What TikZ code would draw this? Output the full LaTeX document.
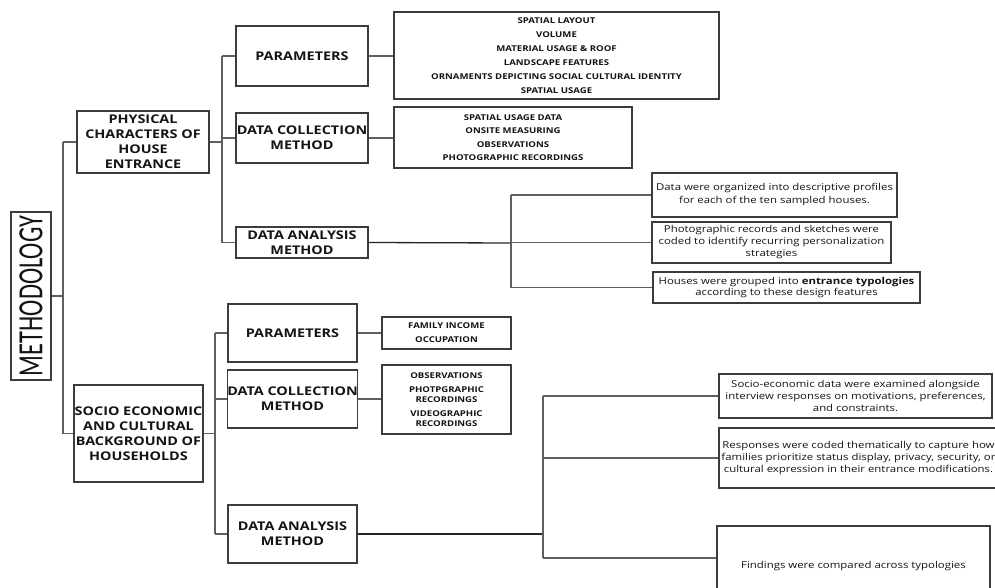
\documentclass[tikz,border=0pt]{standalone}
\usepackage{fontspec}
\setmainfont{Open Sans}[FakeStretch=1.2]
\newfontfamily\thinfont{Carlito}
\usepackage{graphicx}
\definecolor{lnc}{RGB}{95,95,95}
\definecolor{bxc}{RGB}{60,60,60}
\definecolor{txc}{RGB}{20,20,20}
\begin{document}
\begin{tikzpicture}[x=1pt,y=-1pt,
  bx/.style={draw=bxc,line width=1.1pt,rectangle,inner sep=0pt,align=center,text=txc},
  lvl/.style={bx,font=\fontsize{12}{15}\selectfont\bfseries},
  lst/.style={bx,font=\fontsize{8}{14}\selectfont\bfseries},
  dsc/.style={bx,font=\fontsize{9.5}{13}\selectfont},
  dsl/.style={bx,font=\fontsize{9.5}{11.7}\selectfont},
  ln/.style={draw=lnc,line width=1.1pt},
  lnd/.style={draw=black!85,line width=1.3pt}]
\useasboundingbox (0,0) rectangle (995,588);
\clip (0,0) rectangle (995,588);

% root
\node[bx,rotate=90,minimum width=168pt,minimum height=40pt] (meth) at (31,296)
  {\resizebox{160pt}{23pt}{\thinfont METHODOLOGY}};

% level 1
\node[lvl,minimum width=132pt,minimum height=62pt] (phys) at (143,142)
  {PHYSICAL\\CHARACTERS OF\\HOUSE\\ENTRANCE};
\node[lvl,minimum width=129pt,minimum height=97pt] (socio) at (138.5,433.5)
  {SOCIO ECONOMIC\\AND CULTURAL\\BACKGROUND OF\\HOUSEHOLDS};

% level 2 (upper)
\node[lvl,minimum width=132pt,minimum height=60pt] (p1) at (302,56) {PARAMETERS};
\node[lvl,minimum width=132pt,minimum height=50pt] (dc1) at (302,138) {DATA COLLECTION\\METHOD};
\node[lvl,minimum width=132pt,minimum height=31pt] (da1) at (302,242.5) {DATA ANALYSIS\\METHOD};

% level 2 (lower)
\node[lvl,minimum width=129pt,minimum height=58pt] (p2) at (292.5,333) {PARAMETERS};
\node[lvl,minimum width=129pt,minimum height=58pt] (dc2) at (292.5,399) {DATA COLLECTION\\METHOD};
\node[lvl,minimum width=129pt,minimum height=58pt] (da2) at (292.5,534) {DATA ANALYSIS\\METHOD};

% lists
\node[lst,minimum width=325pt,minimum height=87pt] (pl1) at (556.5,55.5)
  {SPATIAL LAYOUT\\VOLUME\\MATERIAL USAGE \& ROOF\\LANDSCAPE FEATURES\\ORNAMENTS DEPICTING SOCIAL CULTURAL IDENTITY\\SPATIAL USAGE};
\node[lst,font=\fontsize{8}{13.3}\selectfont\bfseries,minimum width=238pt,minimum height=61pt] (dcl1) at (513,137.5)
  {SPATIAL USAGE DATA\\ONSITE MEASURING\\OBSERVATIONS\\PHOTOGRAPHIC RECORDINGS};
\node[lst,minimum width=129pt,minimum height=32pt] (fi) at (446.5,333)
  {FAMILY INCOME\\OCCUPATION};
\node[lst,font=\fontsize{8}{10}\selectfont\bfseries,minimum width=129pt,minimum height=69pt] (obs) at (446.5,399.5)
  {OBSERVATIONS\\[4pt]PHOTPGRAPHIC\\RECORDINGS\\[4pt]VIDEOGRAPHIC\\RECORDINGS};

% descriptive boxes (upper)
\node[dsc,minimum width=245pt,minimum height=44pt] (r1) at (774.5,195)
  {Data were organized into descriptive profiles\\for each of the ten sampled houses.};
\node[dsc,font=\fontsize{9.5}{12}\selectfont,minimum width=239pt,minimum height=41pt] (r2) at (771.5,242.5)
  {Photographic records and sketches were\\coded to identify recurring personalization\\strategies};
\node[dsc,font=\fontsize{9.5}{11.5}\selectfont,minimum width=267pt,minimum height=31pt] (r3) at (786.5,287.5)
  {Houses were grouped into \textbf{entrance typologies}\\according to these design features};

% descriptive boxes (lower)
\node[dsl,minimum width=273pt,minimum height=44pt] (s1) at (855.5,396)
  {Socio-economic data were examined alongside\\interview responses on motivations, preferences,\\and constraints.};
\node[dsl,minimum width=279pt,minimum height=60pt] (s2) at (858.5,458)
  {Responses were coded thematically to capture how\\families prioritize status display, privacy, security, or\\cultural expression in their entrance modifications.};
\node[dsl,minimum width=273pt,minimum height=81pt] (s3) at (853.5,566.5)
  {Findings were compared across typologies};

% junction coordinates
\coordinate (j0) at (63,296);
\coordinate (b1) at (222,142);
\coordinate (b2) at (215,433);
\coordinate (d1) at (511,243);
\coordinate (d2) at (543,534);

% trunk
\draw[ln] (meth.south) -- (j0);
\draw[ln] (j0 |- phys.west) -- (j0 |- socio.west);
\draw[ln] (j0 |- phys.west) -- (phys.west);
\draw[ln] (j0 |- socio.west) -- (socio.west);

% branch 1
\draw[ln] (phys.east) -- (b1 |- phys.east);
\draw[ln] (b1 |- p1.west) -- (b1 |- da1.west);
\draw[ln] (b1 |- p1.west) -- (p1.west);
\draw[ln] (b1 |- dc1.west) -- (dc1.west);
\draw[ln] (b1 |- da1.west) -- (da1.west);
\draw[ln] (p1.east) -- (pl1.west |- p1.east);
\draw[ln] (dc1.east) -- (dcl1.west |- dc1.east);
\draw[lnd] (da1.east) -- (d1);
\draw[ln] (d1 |- r1.west) -- (d1 |- r3.west);
\draw[ln] (d1 |- r1.west) -- (r1.west);
\draw[ln] (d1 |- r2.west) -- (r2.west);
\draw[ln] (d1 |- r3.west) -- (r3.west);

% branch 2
\draw[ln] (socio.east) -- (b2 |- socio.east);
\draw[ln] (b2 |- p2.west) -- (b2 |- da2.west);
\draw[ln] (b2 |- p2.west) -- (p2.west);
\draw[ln] (b2 |- dc2.west) -- (dc2.west);
\draw[ln] (b2 |- da2.west) -- (da2.west);
\draw[ln] (p2.east) -- (fi.west |- p2.east);
\draw[ln] (dc2.east) -- (obs.west |- dc2.east);
\draw[lnd] (da2.east) -- (d2);
\draw[ln] (d2 |- s1.west) -- (d2 |- 0,558);
\draw[ln] (d2 |- s1.west) -- (s1.west);
\draw[ln] (d2 |- s2.west) -- (s2.west);
\draw[ln] (d2 |- 0,558) -- ([yshift=8.5pt]s3.west);
\end{tikzpicture}
\end{document}
